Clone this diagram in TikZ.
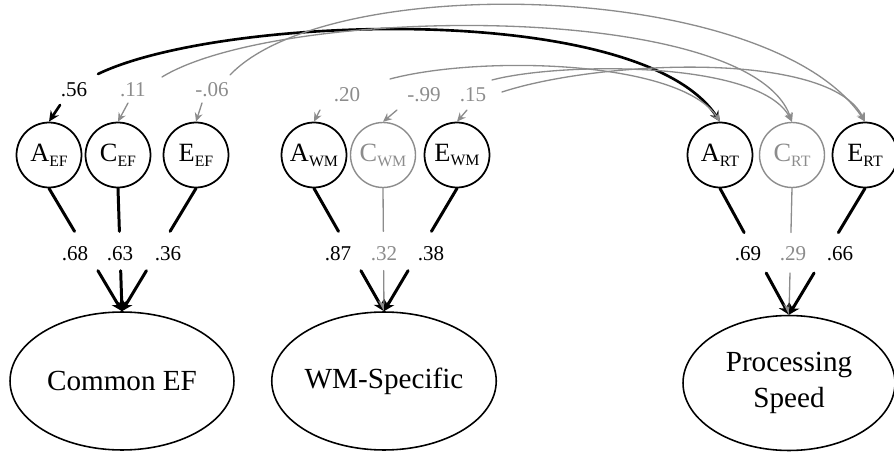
\documentclass[tikz,border=0pt]{standalone}
\usepackage{fontspec}
\setmainfont{Liberation Serif}
\usetikzlibrary{arrows.meta,shapes.geometric}
\definecolor{pale}{gray}{0.55}
\newcommand{\lv}[2]{#1\raisebox{-2.8pt}{\fontsize{9}{10}\selectfont #2}}
\begin{document}
\begin{tikzpicture}[x=0.02cm, y=-0.02cm, line join=round, line cap=round,
    lat/.style={circle, draw, line width=1pt, minimum size=1.3cm, inner sep=0pt, font=\fontsize{15}{16}\selectfont},
    fac/.style={ellipse, draw, line width=0.9pt, inner sep=0pt, align=center, font=\fontsize{16.6}{20.5}\selectfont},
    num/.style={font=\fontsize{12}{13}\selectfont},
    ld/.style={line width=1.7pt},
    ldg/.style={line width=0.75pt, pale},
    cr/.style={line width=1.5pt, -{Stealth[length=6pt,width=5.5pt]}},
    crg/.style={line width=0.75pt, pale, -{Stealth[length=5pt,width=4.5pt]}}]
  \useasboundingbox (0,0) rectangle (894,453);
  \foreach \n/\x/\t/\c in {AEF/49/A/EF, CEF/118/C/EF, EEF/196/E/EF, AWM/314/A/WM, EWM/457/E/WM, ART/720/A/RT, ERT/865/E/RT}
    \node[lat] (\n) at (\x,155) {\lv{\t}{\c}};
  \foreach \n/\x/\t/\c in {CWM/383/C/WM, CRT/792/C/RT}
    \node[lat, draw=pale, text=pale, line width=0.8pt] (\n) at (\x,155) {\lv{\t}{\c}};
  \node[fac, minimum width=4.48cm, minimum height=2.76cm] (EF) at (122,381) {Common EF};
  \node[fac, minimum width=4.44cm, minimum height=2.76cm] (WM) at (384,381) {WM-Specific};
  \node[fac, minimum width=4.24cm, minimum height=2.7cm] (PS) at (789,383) {Processing\\Speed};
  \foreach \a/\b/\s in {AEF/EF/ld, CEF/EF/ld, EEF/EF/ld, AWM/WM/ld, CWM/WM/ldg, EWM/WM/ld, ART/PS/ld, CRT/PS/ldg, ERT/PS/ld}{
    \path (\a.south) -- coordinate[pos=.35] (p) coordinate[pos=.67] (q) (\b.north);
    \draw[\s] (\a.south) -- (p);
    \draw[\s, -{Stealth[length=6pt,width=6.5pt]}] (q) -- (\b.north);
  }
  \foreach \x/\v/\s in {75/.68/black, 120/.63/black, 168/.36/black, 338/.87/black, 384/.32/pale, 431/.38/black, 748/.69/black, 793/.29/pale, 840/.66/black}
    \node[num, text=\s] (l\x) at (\x,254) {\v};
  \foreach \n/\x/\y/\s in {AEF/60/105/cr, CEF/128/103/crg, EEF/202/103/crg, AWM/320/110/crg, CWM/397/110/crg, EWM/467/110/crg}
    \draw[\s] (\x,\y) coordinate (s\n) -- (\n.north);
  \draw[cr] (98,74) coordinate (cAEF) .. controls (220,15) and (640,0) .. (ART.north);
  \draw[crg] (162,77) coordinate (cCEF) .. controls (280,5) and (750,0) .. (CRT.north);
  \draw[crg] (230,75) coordinate (cEEF) .. controls (330,-30) and (770,-20) .. (ERT.north);
  \draw[crg] (390,79) coordinate (cAWM) .. controls (480,55) and (680,60) .. (ART.north);
  \draw[crg] (492,80) coordinate (cCWM) .. controls (560,62) and (760,60) .. (CRT.north);
  \draw[crg] (502,92) coordinate (cEWM) .. controls (600,60) and (830,50) .. (ERT.north);
  \foreach \x/\y/\v/\s in {74/90/.56/black, 133/90/.11/pale, 212/90/-.06/pale, 347/95/.20/pale, 424/95/-.99/pale, 473/95/.15/pale}
    \node[num, text=\s] (r\x) at (\x,\y) {\v};
\end{tikzpicture}
\end{document}
